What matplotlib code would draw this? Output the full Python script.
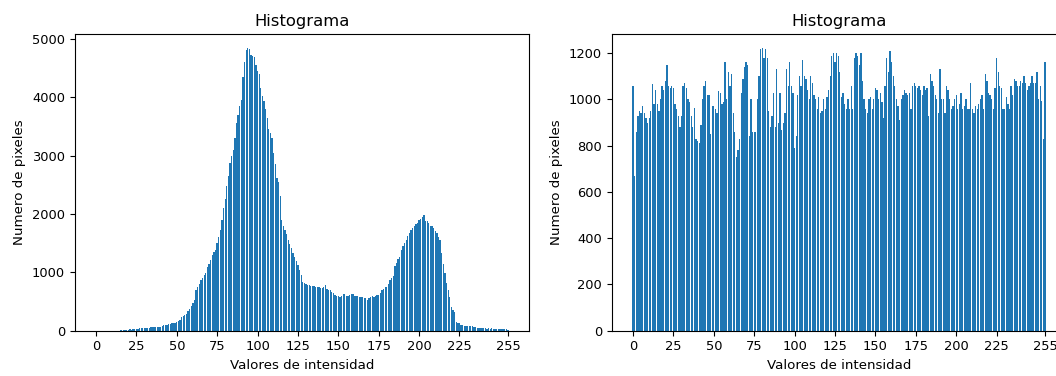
import matplotlib.pyplot as plt

# Histograma original (0..255)
hist_orig = [
    0, 0, 0, 0, 0, 0, 0, 0, 0, 0,
    0, 0, 0, 0, 0, 10, 12, 15, 14, 18,
    20, 22, 20, 25, 28, 30, 35, 38, 40, 42,
    45, 48, 50, 52, 55, 58, 60, 62, 65, 68,
    70, 80, 95, 100, 105, 110, 120, 125, 130, 140,
    150, 160, 180, 230, 250, 265, 280, 340, 380, 420,
    470, 530, 690, 740, 800, 860, 900, 950, 990, 1090,
    1150, 1210, 1290, 1340, 1390, 1500, 1600, 1720, 1900, 2100,
    2250, 2480, 2650, 2870, 3000, 3100, 3300, 3550, 3700, 3850,
    3950, 4350, 4600, 4800, 4840, 4820, 4720, 4700, 4680, 4550,
    4450, 4400, 4150, 4020, 3940, 3800, 3650, 3450, 3380, 3300,
    3050, 2850, 2620, 2550, 2300, 1900, 1800, 1720, 1650, 1560,
    1480, 1420, 1330, 1270, 1200, 1120, 1040, 950, 840, 815,
    800, 790, 785, 770, 760, 770, 757, 750, 740, 735,
    728, 740, 785, 720, 700, 690, 670, 640, 615, 600,
    590, 585, 600, 630, 620, 600, 590, 610, 630, 620,
    600, 590, 600, 585, 575, 570, 560, 556, 527, 560,
    585, 590, 585, 600, 610, 613, 650, 690, 720, 740,
    757, 800, 860, 900, 930, 1100, 1160, 1220, 1270, 1380,
    1445, 1500, 1560, 1620, 1674, 1720, 1760, 1790, 1820, 1846,
    1903, 1920, 1950, 1990, 1880, 1875, 1846, 1800, 1790, 1760,
    1700, 1674, 1600, 1560, 1330, 1150, 986, 815, 700, 585,
    413, 360, 327, 155, 140, 126, 97, 90, 85, 80,
    80, 78, 75, 72, 70, 69, 50, 45, 40, 40,
    38, 40, 36, 38, 35, 40, 30, 28, 25, 28,
    25, 24, 22, 25, 23, 20,
]

# Histograma ecualizado (0..255)
hist_eq = [
    1060, 670, 860, 930, 950, 940, 970, 940, 920, 900,
    920, 950, 1065, 980, 1040, 980, 950, 1000, 1060, 1040,
    1080, 1150, 1060, 1050, 1060, 1050, 980, 960, 930, 880,
    930, 1060, 1070, 1050, 1000, 990, 930, 880, 965, 830,
    820, 810, 890, 1000, 1060, 1080, 1020, 1020, 850, 970,
    970, 960, 940, 1035, 1030, 980, 990, 1160, 1000, 1120,
    1060, 1110, 940, 860, 750, 780, 830, 1030, 1090, 1140,
    1160, 1150, 840, 1000, 860, 860, 860, 1000, 1100, 1220,
    1222, 1180, 1220, 1180, 950, 880, 930, 1030, 880, 1130,
    900, 1030, 870, 900, 940, 1130, 1060, 1160, 1060, 1030,
    790, 840, 1020, 1100, 1060, 1170, 1100, 1090, 1040, 1000,
    1100, 1070, 1020, 1000, 960, 1010, 940, 950, 1000, 960,
    1010, 1040, 1100, 1190, 1200, 1160, 1200, 1190, 1120, 1010,
    1030, 980, 960, 1000, 960, 1060, 960, 1180, 1200, 1190,
    1150, 1200, 1080, 1000, 960, 940, 1000, 1010, 960, 1000,
    1050, 1040, 1000, 1030, 990, 920, 1060, 1180, 1120, 1210,
    1160, 1100, 1060, 1000, 970, 910, 1000, 1020, 1040, 1030,
    1020, 1030, 960, 1060, 1070, 1060, 1050, 1060, 1040, 1020,
    1060, 1040, 1050, 930, 1110, 1080, 1060, 1020, 1000, 940,
    1130, 1000, 1000, 940, 1060, 1040, 1000, 960, 970, 1000,
    1020, 960, 980, 1030, 960, 970, 1000, 960, 960, 1070,
    960, 940, 970, 960, 980, 1000, 1020, 960, 1110, 1080,
    1030, 1020, 1000, 960, 1050, 1180, 1120, 1060, 1050, 960,
    960, 1010, 980, 960, 1060, 1020, 1090, 1080, 1060, 1060,
    1080, 1070, 1100, 1070, 1040, 1060, 1070, 1100, 1070, 1070,
    1120, 1000, 1060, 995, 830, 1160,
]

niveles = list(range(256))
ticks = [0, 25, 50, 75, 100, 125, 150, 175, 200, 225, 255]

fig = plt.figure(figsize=(10.56, 3.76), dpi=100)
ax1 = fig.add_axes([0.0707, 0.1205, 0.4305, 0.789])
ax2 = fig.add_axes([0.5793, 0.1205, 0.4305, 0.789])

for ax, h in [(ax1, hist_orig), (ax2, hist_eq)]:
    ax.bar(niveles, h)
    ax.set_title("Histograma", fontsize=11.8)
    ax.set_xlabel("Valores de intensidad", fontsize=9.6)
    ax.set_ylabel("Numero de pixeles", fontsize=9.6)
    ax.set_xticks(ticks)
    ax.tick_params(labelsize=9.4)

plt.savefig("out.png", dpi=100)
